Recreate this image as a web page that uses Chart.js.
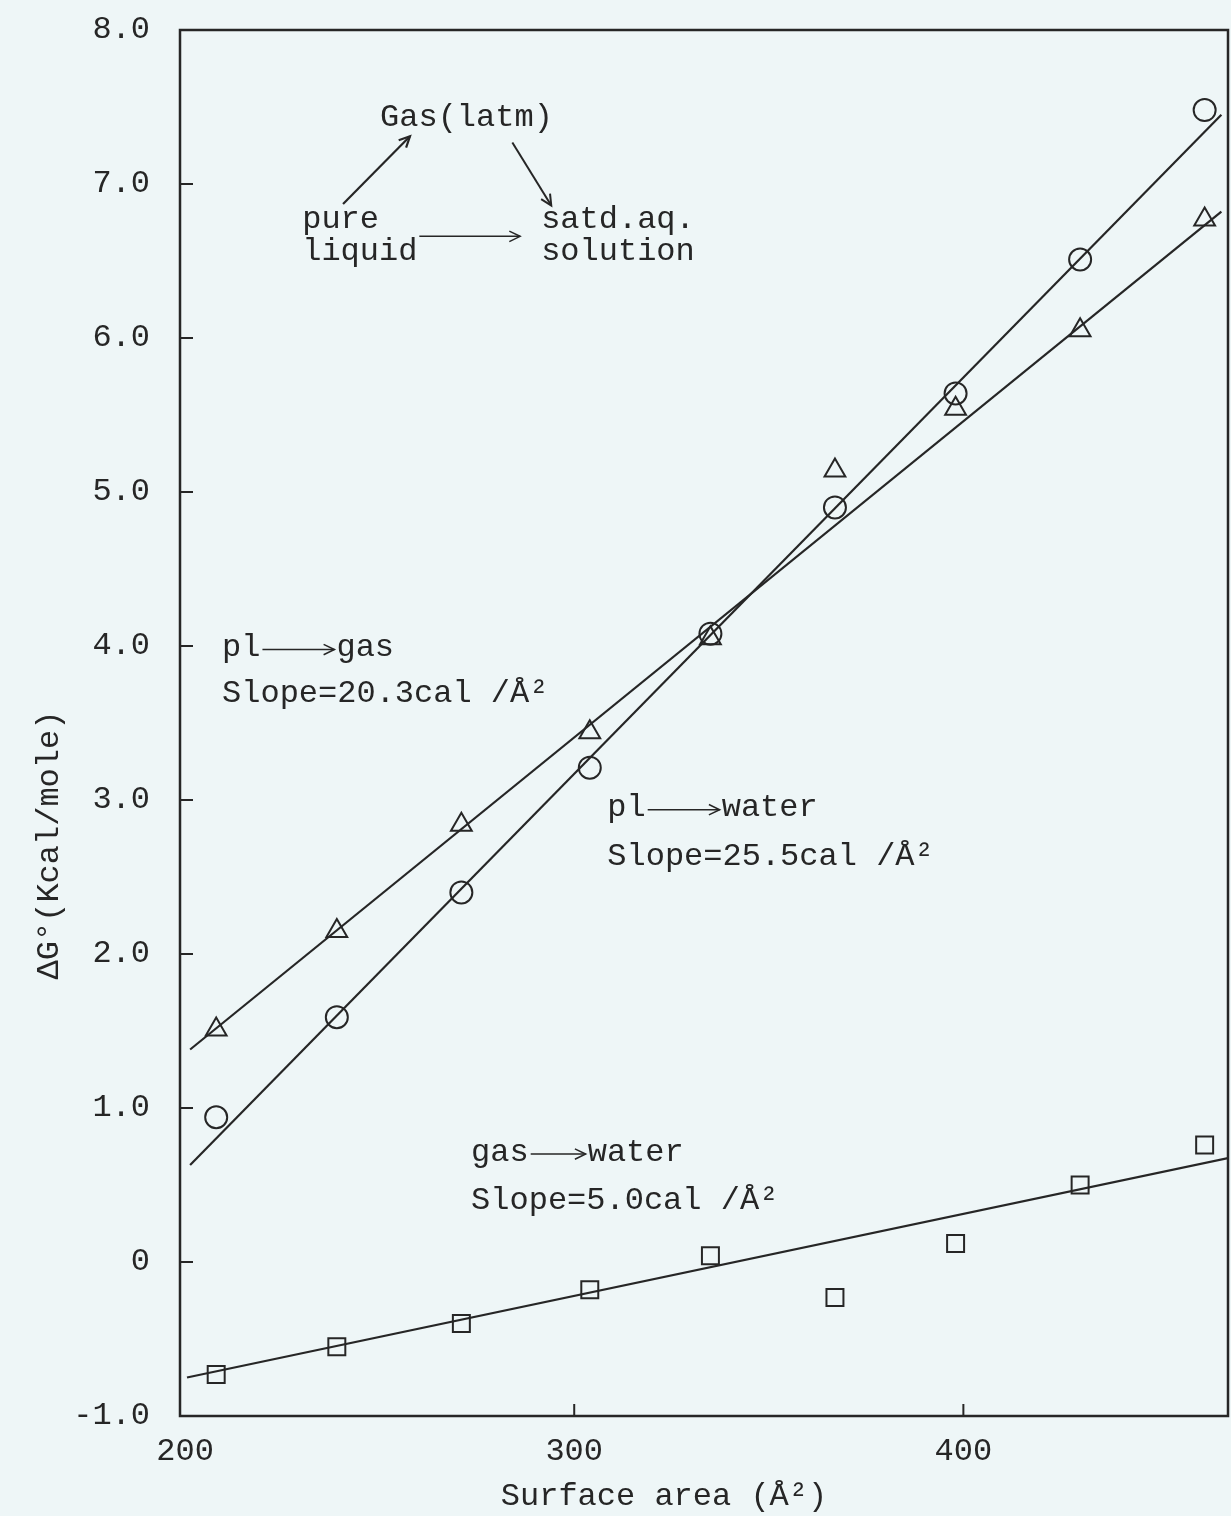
<!DOCTYPE html>
<html>
<head>
<meta charset="utf-8">
<script src="https://cdn.jsdelivr.net/npm/chart.js@4"></script>
<style>
html,body{margin:0;padding:0;background:#eef6f7;}
#wrap{width:1231px;height:1516px;position:relative;}
</style>
</head>
<body>
<div id="wrap"><canvas id="c" width="1231" height="1516"></canvas></div>
<script>
// ---- data ----
const surfaceArea   = [208, 239, 271, 304, 335, 367, 398, 430, 462];
const plToWater     = [0.94, 1.59, 2.40, 3.21, 4.08, 4.90, 5.64, 6.51, 7.48];
const plToGas       = [1.51, 2.15, 2.84, 3.44, 4.05, 5.14, 5.54, 6.05, 6.77];
const gasToWater    = [-0.73, -0.55, -0.40, -0.18, 0.04, -0.23, 0.12, 0.50, 0.76];
const fitX_plGas    = [201.3, 466.3];
const fitY_plGas    = [1.38, 6.82];
const fitX_plWater  = [201.3, 466.3];
const fitY_plWater  = [0.63, 7.45];
const fitX_gasWater = [200.5, 468.0];
const fitY_gasWater = [-0.75, 0.675];
const xTickValues   = [200, 300, 400];
const xTickLabels   = ['200', '300', '400'];
const yTickValues   = [-1, 0, 1, 2, 3, 4, 5, 6, 7, 8];
const yTickLabels   = ['-1.0', '0', '1.0', '2.0', '3.0', '4.0', '5.0', '6.0', '7.0', '8.0'];

const INK = '#262626';
const FONT = "'Liberation Mono', 'DejaVu Sans Mono', monospace";
const FS = 32;

function pts(xs, ys){ return xs.map((x,i)=>({x:x, y:ys[i]})); }

const annotPlugin = {
  id: 'annot',
  beforeDraw(chart){
    const ctx = chart.ctx;
    ctx.save();
    ctx.fillStyle = '#eef6f7';
    ctx.fillRect(0,0,chart.width,chart.height);
    ctx.restore();
  },
  afterDraw(chart){
    const ctx = chart.ctx, xs = chart.scales.x, ys = chart.scales.y, a = chart.chartArea;
    const X = v => xs.getPixelForValue(v), Y = v => ys.getPixelForValue(v);
    ctx.save();
    // frame
    ctx.strokeStyle = INK; ctx.lineWidth = 2.5;
    ctx.strokeRect(a.left, a.top, a.right - a.left, a.bottom - a.top);
    // inward ticks
    ctx.lineWidth = 2;
    yTickValues.forEach(v => { if (v > -1 && v < 8) { ctx.beginPath(); ctx.moveTo(a.left, Y(v)); ctx.lineTo(a.left + 13, Y(v)); ctx.stroke(); } });
    xTickValues.forEach(v => { if (v > 200) { ctx.beginPath(); ctx.moveTo(X(v), a.bottom); ctx.lineTo(X(v), a.bottom - 12); ctx.stroke(); } });

    ctx.fillStyle = INK;
    ctx.font = FS + 'px ' + FONT;
    ctx.textBaseline = 'middle';
    ctx.textAlign = 'left';

    function arrow(x1,y1,x2,y2,lw){
      ctx.lineWidth = lw || 2;
      ctx.beginPath(); ctx.moveTo(x1,y1); ctx.lineTo(x2,y2); ctx.stroke();
      const ang = Math.atan2(y2-y1, x2-x1), h = 12;
      ctx.beginPath();
      ctx.moveTo(x2 - h*Math.cos(ang - 0.45), y2 - h*Math.sin(ang - 0.45));
      ctx.lineTo(x2, y2);
      ctx.lineTo(x2 - h*Math.cos(ang + 0.45), y2 - h*Math.sin(ang + 0.45));
      ctx.stroke();
    }
    function arrowText(first, second, x, y, arrowLen){
      ctx.fillText(first, x, y);
      const w1 = ctx.measureText(first).width;
      arrow(x + w1 + 2, y + 2, x + w1 + 2 + arrowLen, y + 2, 1.5);
      ctx.fillText(second, x + w1 + arrowLen + 4, y);
    }

    // reaction scheme
    ctx.fillText('Gas(latm)', X(250.1), Y(7.43));
    ctx.fillText('pure', X(230.1), Y(6.77));
    ctx.fillText('liquid', X(230.1), Y(6.56));
    ctx.fillText('satd.aq.', X(291.5), Y(6.77));
    ctx.fillText('solution', X(291.5), Y(6.56));
    arrow(X(240.6), Y(6.87), X(257.8), Y(7.31), 2.2);
    arrow(X(284.1), Y(7.27), X(294.1), Y(6.86), 2);
    arrow(X(260.2), Y(6.66), X(286.1), Y(6.66), 1.5);

    // line labels
    arrowText('pl', 'gas', X(209.5), Y(3.99), 72);
    ctx.fillText('Slope=20.3cal /\u00C5\u00B2', X(209.5), Y(3.69));
    arrowText('pl', 'water', X(308.5), Y(2.95), 72);
    ctx.fillText('Slope=25.5cal /\u00C5\u00B2', X(308.5), Y(2.63));
    arrowText('gas', 'water', X(273.5), Y(0.714), 55);
    ctx.fillText('Slope=5.0cal /\u00C5\u00B2', X(273.5), Y(0.40));

    // axis titles
    ctx.textAlign = 'center';
    ctx.fillText('Surface area (\u00C5\u00B2)', 664, 1497);
    ctx.save();
    ctx.translate(50, 845);
    ctx.rotate(-Math.PI/2);
    ctx.fillText('\u0394G\u00B0(Kcal/mole)', 0, 0);
    ctx.restore();
    ctx.restore();
  }
};

const markerBase = {
  type: 'scatter', showLine: false, borderColor: INK, backgroundColor: 'rgba(0,0,0,0)', borderWidth: 2
};
const lineBase = {
  type: 'line', showLine: true, borderColor: INK, borderWidth: 2.2, pointRadius: 0, fill: false, tension: 0
};

new Chart(document.getElementById('c'), {
  type: 'scatter',
  data: {
    datasets: [
      Object.assign({}, lineBase, {label: 'fit pl→gas', data: pts(fitX_plGas, fitY_plGas)}),
      Object.assign({}, lineBase, {label: 'fit pl→water', data: pts(fitX_plWater, fitY_plWater)}),
      Object.assign({}, lineBase, {label: 'fit gas→water', data: pts(fitX_gasWater, fitY_gasWater)}),
      Object.assign({}, markerBase, {label: 'pl→water', data: pts(surfaceArea, plToWater), pointStyle: 'circle', pointRadius: 11}),
      Object.assign({}, markerBase, {label: 'pl→gas', data: pts(surfaceArea, plToGas), pointStyle: 'triangle', pointRadius: 12}),
      Object.assign({}, markerBase, {label: 'gas→water', data: pts(surfaceArea, gasToWater), pointStyle: 'rect', pointRadius: 12})
    ]
  },
  options: {
    responsive: false,
    animation: false,
    events: [],
    layout: { autoPadding: false, padding: { top: 30, right: 3, left: 0, bottom: 0 } },
    plugins: { legend: { display: false }, tooltip: { enabled: false } },
    scales: {
      x: {
        type: 'linear', min: 198.7, max: 468,
        afterBuildTicks: s => { s.ticks = xTickValues.map(v => ({value: v})); },
        afterFit: s => { s.height = 100; s.paddingLeft = 0; s.paddingRight = 0; },
        grid: { display: false, drawTicks: false },
        border: { display: false },
        ticks: {
          padding: 16, color: INK, font: { family: FONT, size: FS },
          callback: (v) => xTickLabels[xTickValues.indexOf(v)]
        }
      },
      y: {
        type: 'linear', min: -1, max: 8,
        afterBuildTicks: s => { s.ticks = yTickValues.map(v => ({value: v})); },
        afterFit: s => { s.width = 180; s.paddingTop = 0; s.paddingBottom = 0; },
        grid: { display: false, drawTicks: false },
        border: { display: false },
        ticks: {
          padding: 30, color: INK, font: { family: FONT, size: FS },
          callback: (v) => yTickLabels[yTickValues.indexOf(v)]
        }
      }
    }
  },
  plugins: [annotPlugin]
});
</script>
</body>
</html>
